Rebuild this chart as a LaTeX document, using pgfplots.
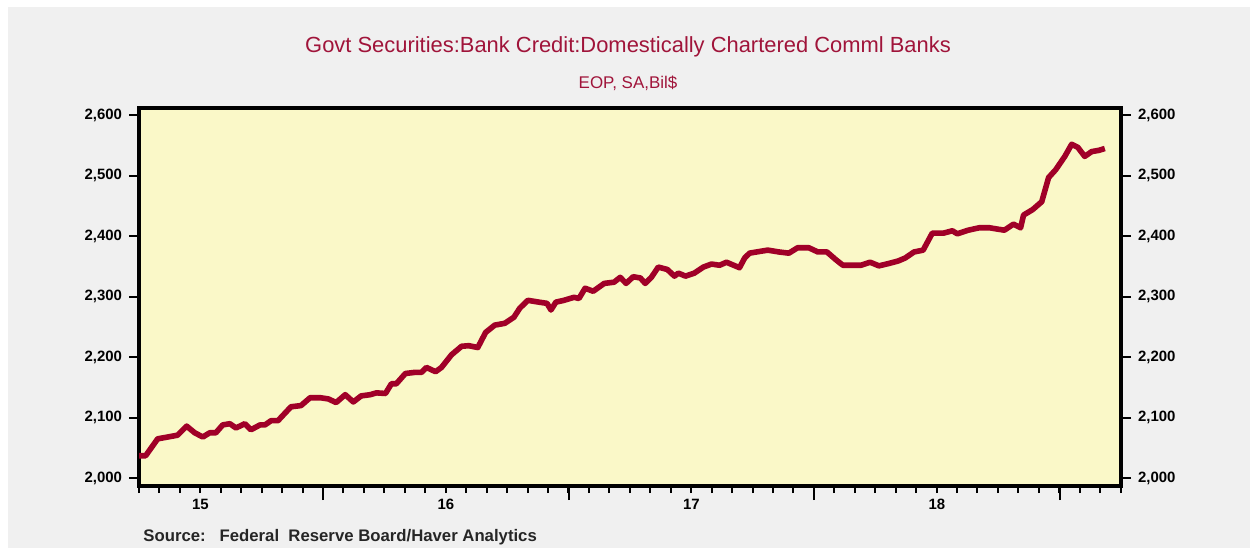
\documentclass[border=0pt]{standalone}
\usepackage{pgfplots}
\pgfplotsset{compat=1.18}
\usepackage{fontspec}
\setmainfont{Liberation Sans}
\definecolor{bgc}{HTML}{F0F0F0}
\definecolor{plotbg}{HTML}{FAF8C8}
\definecolor{dred}{HTML}{A00028}
\definecolor{tred}{HTML}{A0143A}
\begin{document}
\begin{tikzpicture}[x=1bp,y=1bp]
\path[use as bounding box] (0,0) rectangle (625,276);
\fill[white] (0,0) rectangle (625,276);
\fill[bgc] (4,2) rectangle (625,272.5);
\node[font=\fontsize{11}{13}\selectfont, text=tred] at (314,252.5) {Govt Securities:Bank Credit:Domestically Chartered Comml Banks};
\node[font=\fontsize{8.5}{10}\selectfont, text=tred] at (314,234.5) {EOP, SA,Bil\$};
\node[font=\fontsize{8.4}{10}\selectfont\bfseries, text=black!85, anchor=west, inner sep=0pt] at (71.5,7.5) {Source:\ \ \ Federal\ \ Reserve Board/Haver Analytics};
% main axis
\begin{axis}[
  at={(69.5bp,33bp)}, anchor=south west,
  scale only axis, width=491bp, height=189bp,
  xmin=2015.25, xmax=2019.25, ymin=1987, ymax=2612,
  axis background/.style={fill=plotbg},
  axis line style={line width=2.2bp, line cap=rect},
  tick align=outside,
  xtick pos=bottom,
  xtick={2016,2017,2018,2019},
  xticklabels={},
  minor xtick={2015.25,2015.3333,...,2019.25},
  major tick length=7bp, minor tick length=3.5bp,
  tick style={line width=1bp, black},
  extra x ticks={2015.5,2016.5,2017.5,2018.5},
  extra x tick labels={15,16,17,18},
  extra x tick style={major tick length=0pt, tick label style={yshift=-3bp}},
  ytick=\empty,
  ticklabel style={font=\fontsize{7.5}{9}\selectfont\bfseries},
]
\addplot[color=dred, line width=2.8bp, line join=round] table {
x y
2015.244 2037
2015.277 2037
2015.326 2065
2015.367 2068
2015.407 2071
2015.444 2086
2015.477 2075
2015.510 2068
2015.538 2075
2015.563 2075
2015.591 2088
2015.620 2090
2015.645 2083
2015.681 2090
2015.706 2080
2015.743 2088
2015.763 2088
2015.788 2095
2015.816 2095
2015.869 2118
2015.910 2120
2015.947 2133
2015.988 2133
2016.021 2131
2016.053 2125
2016.090 2138
2016.123 2126
2016.155 2136
2016.192 2138
2016.217 2141
2016.254 2140
2016.278 2156
2016.298 2156
2016.335 2173
2016.376 2175
2016.401 2175
2016.421 2183
2016.458 2176
2016.482 2183
2016.523 2204
2016.564 2218
2016.593 2219
2016.630 2216
2016.662 2241
2016.699 2253
2016.740 2256
2016.777 2266
2016.801 2281
2016.834 2294
2016.879 2291
2016.912 2289
2016.928 2278
2016.948 2291
2016.981 2294
2017.022 2299
2017.042 2297
2017.067 2314
2017.100 2309
2017.145 2322
2017.185 2324
2017.210 2332
2017.234 2322
2017.263 2333
2017.292 2331
2017.312 2322
2017.337 2332
2017.365 2349
2017.402 2345
2017.431 2334
2017.447 2339
2017.476 2334
2017.512 2339
2017.549 2349
2017.582 2354
2017.615 2352
2017.643 2357
2017.672 2352
2017.696 2348
2017.717 2364
2017.737 2372
2017.766 2374
2017.811 2377
2017.856 2374
2017.897 2372
2017.933 2381
2017.978 2381
2018.015 2374
2018.052 2374
2018.089 2361
2018.117 2352
2018.146 2352
2018.191 2352
2018.228 2357
2018.264 2351
2018.305 2355
2018.342 2359
2018.371 2364
2018.407 2374
2018.444 2377
2018.481 2405
2018.526 2405
2018.563 2409
2018.583 2404
2018.628 2410
2018.673 2414
2018.714 2414
2018.743 2412
2018.775 2410
2018.812 2420
2018.841 2414
2018.853 2435
2018.890 2444
2018.927 2457
2018.955 2497
2018.984 2510
2019.021 2532
2019.049 2552
2019.074 2547
2019.102 2532
2019.131 2540
2019.160 2542
2019.184 2545
};
\end{axis}
% left y labels
\begin{axis}[
  at={(69.5bp,33bp)}, anchor=south west,
  scale only axis, width=491bp, height=189bp,
  xmin=2015.25, xmax=2019.25, ymin=1987, ymax=2612,
  axis line style={draw=none},
  xtick=\empty,
  ytick={2000,2100,2200,2300,2400,2500,2600},
  ytick pos=left, yticklabel pos=left,
  tick align=outside, major tick length=5bp,
  tick style={line width=1bp, black},
  /pgf/number format/.cd, 1000 sep={,}, assume math mode=true,
  /pgfplots/.cd,
  ticklabel style={font=\fontsize{7.5}{9}\selectfont\bfseries},
]
\end{axis}
% right y labels
\begin{axis}[
  at={(69.5bp,33bp)}, anchor=south west,
  scale only axis, width=491bp, height=189bp,
  xmin=2015.25, xmax=2019.25, ymin=1987, ymax=2612,
  axis line style={draw=none},
  xtick=\empty,
  ytick={2000,2100,2200,2300,2400,2500,2600},
  ytick pos=right, yticklabel pos=right,
  tick align=outside, major tick length=5bp,
  tick style={line width=1bp, black},
  /pgf/number format/.cd, 1000 sep={,}, assume math mode=true,
  /pgfplots/.cd,
  ticklabel style={font=\fontsize{7.5}{9}\selectfont\bfseries},
]
\end{axis}
\end{tikzpicture}
\end{document}
